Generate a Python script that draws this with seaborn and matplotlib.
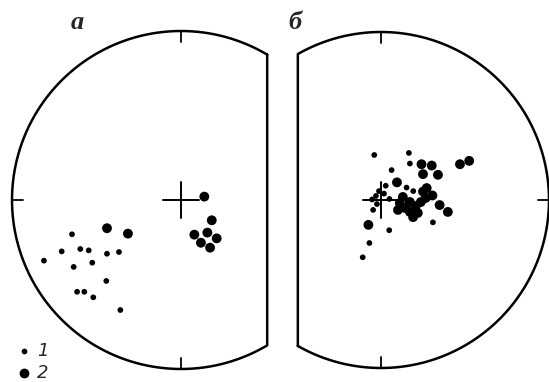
import numpy as np
import pandas as pd
import matplotlib
matplotlib.use("Agg")
import matplotlib.pyplot as plt
import seaborn as sns

sns.set_theme(style="white")
plt.rcParams["font.family"] = ["Liberation Serif", "DejaVu Serif"]

# Directions in projection coordinates (unit circle, x = east, y = north)
# Panel "а"
a_small_x = [-0.645, -0.706, -0.596, -0.546, -0.811, -0.635, -0.525, -0.438,
             -0.367, -0.442, -0.615, -0.572, -0.519, -0.359]
a_small_y = [-0.203, -0.304, -0.290, -0.298, -0.359, -0.396, -0.371, -0.318,
             -0.308, -0.479, -0.543, -0.543, -0.576, -0.651]
a_large_x = [-0.438, -0.314, 0.138, 0.182, 0.079, 0.156, 0.211, 0.118, 0.172]
a_large_y = [-0.167, -0.199, 0.020, -0.120, -0.205, -0.193, -0.227, -0.253, -0.282]

# Panel "б"
b_small_x = [-0.040, 0.166, 0.172, 0.063, 0.028, -0.012, 0.018, -0.030, -0.053,
             0.050, -0.024, -0.047, 0.049, -0.069, -0.109, 0.309, 0.152, 0.192]
b_small_y = [0.268, 0.280, 0.217, 0.178, 0.085, 0.053, 0.038, 0.024, 0.003,
             0.006, -0.024, -0.059, -0.180, -0.256, -0.341, -0.133, 0.074, 0.053]
b_large_x = [0.241, 0.302, 0.250, 0.339, 0.470, 0.525, 0.095, -0.075, 0.191,
             0.349, 0.398, 0.306, 0.250, 0.112, 0.142, 0.172, 0.207, 0.237,
             0.266, 0.130, 0.101, 0.172, 0.219, 0.272]
b_large_y = [0.213, 0.205, 0.154, 0.150, 0.213, 0.233, 0.105, -0.148, -0.102,
             -0.030, -0.071, 0.027, 0.050, -0.018, -0.047, -0.012, -0.036, -0.012,
             0.012, 0.018, -0.059, -0.071, -0.077, 0.071]

panel_labels = ["а", "б"]
legend_labels = ["1", "2"]

W, H = 549, 382
fig = plt.figure(figsize=(W / 100, H / 100), dpi=100)

SIZES = {"1": 17, "2": 50}
LW = 1.8


def make_axes(px0, px1, cx, cy, r):
    """Axes spanning pixel columns px0..px1 with unit-circle data coords."""
    ax = fig.add_axes([px0 / W, 0, (px1 - px0) / W, 1])
    ax.set_xlim((px0 - cx) / r, (px1 - cx) / r)
    ax.set_ylim((cy - H) / r, cy / r)
    ax.set_aspect("auto")
    ax.axis("off")
    ax.patch.set_alpha(0)
    return ax


def frame(ax, cut, side):
    """Truncated primitive circle with a straight cut on one side."""
    t0 = np.arccos(cut)
    if side == "right":
        th = np.linspace(t0, 2 * np.pi - t0, 500)
    else:
        th = np.linspace(-t0, t0, 500)
    xs = np.append(np.cos(th), np.cos(th[0]))
    ys = np.append(np.sin(th), np.sin(th[0]))
    ax.plot(xs, ys, color="black", lw=LW, clip_on=False,
            solid_joinstyle="round")


def tick(ax, ang, length=0.065):
    c, s = np.cos(np.radians(ang)), np.sin(np.radians(ang))
    ax.plot([c, (1 - length) * c], [s, (1 - length) * s], color="black",
            lw=1.3, clip_on=False)


def cross(ax, arm=0.105):
    ax.plot([-arm, arm], [0, 0], color="black", lw=1.4)
    ax.plot([0, 0], [-arm, arm], color="black", lw=1.4)


def dots(ax, sx, sy, lx, ly):
    df = pd.DataFrame({
        "x": list(sx) + list(lx),
        "y": list(sy) + list(ly),
        "group": [legend_labels[0]] * len(sx) + [legend_labels[1]] * len(lx),
    })
    sns.scatterplot(data=df, x="x", y="y", size="group", sizes=SIZES,
                    color="black", edgecolor="none", linewidth=0,
                    legend=False, ax=ax)
    ax.set_xlabel("")
    ax.set_ylabel("")
    ax.axis("off")


# Panel а
ax_a = make_axes(0, 274, 181, 200, 169)
frame(ax_a, 0.51, "right")
for ang in (90, 180, 270):
    tick(ax_a, ang)
cross(ax_a)
dots(ax_a, a_small_x, a_small_y, a_large_x, a_large_y)
ax_a.text(-0.615, 1.05, panel_labels[0], style="italic", weight="bold",
          fontsize=19, ha="center", va="center")

# legend for the two symbol kinds
ax_a.scatter([-0.929], [-0.893], s=SIZES["1"], color="black", linewidth=0,
             clip_on=False)
ax_a.scatter([-0.929], [-1.024], s=SIZES["2"], color="black", linewidth=0,
             clip_on=False)
ax_a.text(-0.815, -0.893, legend_labels[0], style="italic",
          family=["DejaVu Sans"], fontsize=13, ha="center", va="center")
ax_a.text(-0.820, -1.024, legend_labels[1], style="italic",
          family=["DejaVu Sans"], fontsize=13, ha="center", va="center")

# Panel б
ax_b = make_axes(274, 549, 381, 200, 168)
frame(ax_b, -0.495, "left")
for ang in (90, 0, 270):
    tick(ax_b, ang)
cross(ax_b)
dots(ax_b, b_small_x, b_small_y, b_large_x, b_large_y)
ax_b.text(-0.512, 1.054, panel_labels[1], style="italic", weight="bold",
          fontsize=19, ha="center", va="center")

fig.savefig("out.png", dpi=100)
